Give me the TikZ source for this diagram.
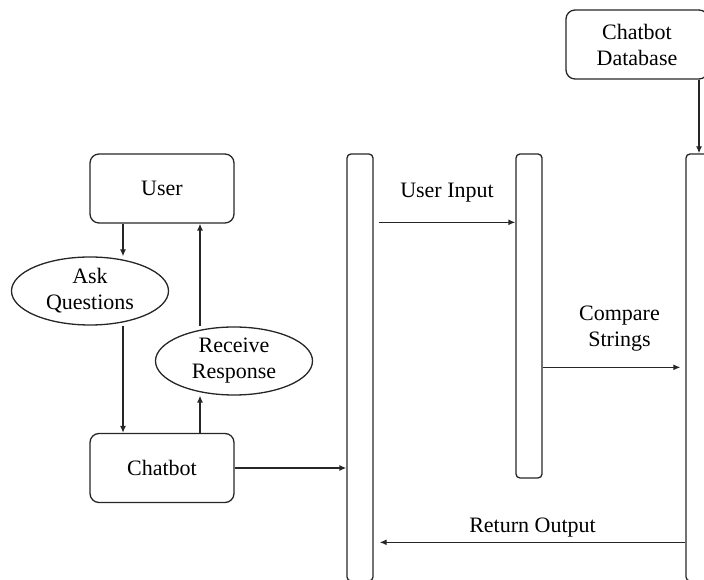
\documentclass[tikz,border=0pt]{standalone}
\usepackage{fontspec}
\setmainfont{LiberationSerif}[Extension=.ttf, UprightFont=*-Regular]
\usetikzlibrary{shapes.geometric,arrows.meta,positioning}
\tikzstyle{block} = [draw, rectangle, rounded corners=9pt, minimum height=69pt, minimum width=144pt, align=center]
\tikzstyle{action} = [draw, ellipse, minimum height=68pt, minimum width=157pt, inner sep=0pt, align=center]
\tikzstyle{lifeline} = [draw, rectangle, rounded corners=4pt, minimum width=26pt, inner sep=0pt]
\tikzstyle{msg} = [align=center]
\begin{document}
\begin{tikzpicture}[x=1pt, y=1pt, line width=1.3pt, draw=black!85, >={Latex[length=7pt,width=6pt]},
  font=\fontsize{22}{26}\selectfont]

\useasboundingbox (0,0) rectangle (704,580);
\clip (0,0) rectangle (704,580);

\node [block] (user) at (162,391.5) {User};
\node [block, below of=user, node distance=279.5pt] (chatbot) {Chatbot};
\node [action] (ask) at (90,289) {Ask\\Questions};
\node [action] (recv) at (234,219) {Receive\\Response};

\node [lifeline, minimum height=427pt] (bar1) at (360,212.5) {};
\node [lifeline, minimum height=324pt] (bar2) at (529,264) {};
\node [lifeline, minimum height=427pt] (bar3) at (699,212.5) {};
\node [block, minimum width=142pt] (db) at (637,535.5) {Chatbot\\Database};

\draw [->] ([xshift=-39pt]user.south) -- ([xshift=-39pt]user.south |- ask.north);
\draw [->] ([xshift=33pt]ask.south) -- ([xshift=-39pt]chatbot.north);
\draw [->] ([xshift=38pt]chatbot.north) -- ([xshift=-34pt]recv.south);
\draw [->] ([xshift=-34pt]recv.north) -- ([xshift=38pt]user.south);
\draw [->] (chatbot.east) -- (chatbot.east -| bar1.west);

\draw [->] ([shift={(5pt,-69pt)}]bar1.north east) -- node [msg, yshift=30pt] (uinput) {User Input} ([yshift=-69pt]bar2.north west);
\draw [->] ([yshift=-214pt]bar2.north east) -- node [msg, xshift=8pt, yshift=39pt] (compare) {Compare\\Strings} ([shift={(-5pt,-214pt)}]bar3.north west);
\draw [->] ([yshift=-389pt]bar3.north west) -- node [msg, yshift=15pt] (output) {Return Output} ([shift={(6pt,-389pt)}]bar1.north east);
\draw [->] (db.south -| bar3.north) -- (bar3.north);

\end{tikzpicture}
\end{document}
